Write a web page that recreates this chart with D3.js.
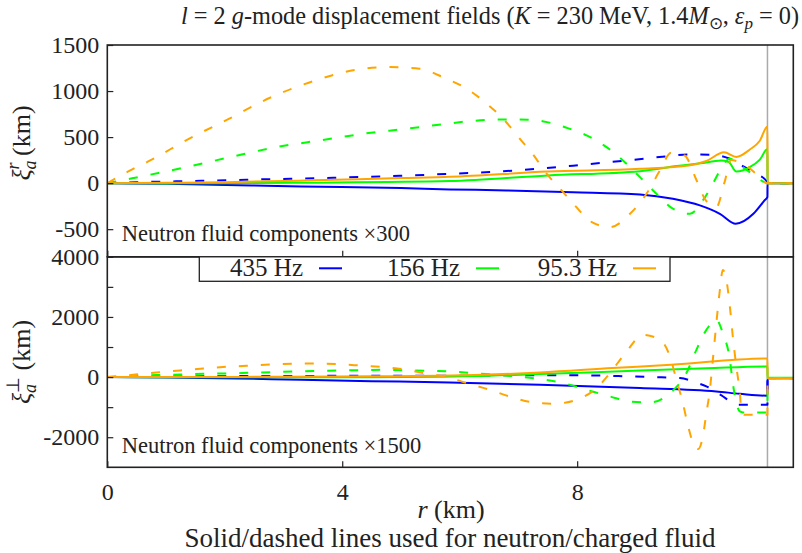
<!DOCTYPE html>
<html>
<head><meta charset="utf-8">
<style>
  html, body { margin: 0; background: #fff; }
</style>
</head>
<body>
<svg width="802" height="553"></svg>
<script src="https://cdnjs.cloudflare.com/ajax/libs/d3/7.8.5/d3.min.js"></script>
<script>
  // ---- data (r in km, values in km) ----
  const freqLabels = ["435 Hz", "156 Hz", "95.3 Hz"];
  const rTicks = [0, 4, 8];
  const topTicks = [-500, 0, 500, 1000, 1500];
  const botTicks = [-2000, 0, 2000, 4000];
  const botMinorTicks = [-1000, 1000, 3000];
  const rSurface = 11.24;
  const scaleTop = 300, scaleBot = 1500;

  // radial displacement, neutron (solid) and charged (dashed)
  const rad435n = [[0,0],[1,-8],[1.6,-14],[3.3,-36],[5,-54],[5.83,-68],[6.8,-79],[7.93,-98],[9.07,-123],[9.63,-170],[10.09,-242],[10.43,-333],[10.7,-441],[11,-333],[11.19,-188],[11.24,-150],[11.241,0],[11.68,0]];
  const rad435c = [[0,0],[0.5,10],[1.6,25],[2.7,42],[3.85,58],[4.98,80],[5.8,100],[6.97,138],[7.93,190],[8.96,254],[9.5,290],[9.92,312],[10.3,308],[10.6,265],[10.83,181],[11.05,102],[11.24,10],[11.241,0],[11.68,0]];
  const rad156n = [[0,0],[1,-3],[2,0],[3.5,5],[5.83,22],[7.5,84],[9.07,130],[9.7,185],[10.1,215],[10.45,245],[10.58,230],[10.71,125],[10.94,174],[11.11,255],[11.24,370],[11.241,0],[11.68,0]];
  const rad156c = [[0,0],[0.44,55],[0.87,110],[1.35,174],[2.09,282],[2.88,391],[3.62,464],[4.36,536],[5.1,591],[5.78,645],[6.17,673],[6.63,690],[7.02,692],[7.43,670],[7.82,601],[8.16,518],[8.5,391],[8.78,246],[9.07,65],[9.35,-115],[9.63,-278],[9.92,-333],[10.14,-188],[10.31,-7],[10.45,160],[10.6,265],[10.85,160],[11.05,70],[11.24,0],[11.68,0]];
  const rad95n = [[0,0],[1,3],[2,10],[3.5,30],[5,55],[5.83,68],[7.5,125],[9.07,156],[9.9,192],[10.2,240],[10.5,335],[10.71,285],[10.94,365],[11.11,460],[11.24,616],[11.241,0],[11.68,0]];
  const rad95c = [[0,0],[0.39,138],[0.73,246],[1.38,478],[2.06,695],[2.77,927],[3.51,1108],[4.24,1232],[4.81,1260],[5.32,1242],[5.75,1140],[6.12,1025],[6.46,862],[6.74,699],[7,500],[7.26,301],[7.48,102],[7.71,-61],[7.96,-242],[8.25,-424],[8.56,-478],[8.9,-333],[9.18,-115],[9.41,138],[9.6,330],[9.83,300],[10.02,50],[10.19,-188],[10.37,-260],[10.51,11],[10.62,250],[10.85,200],[11.08,84],[11.24,0],[11.68,0]];

  // tangential displacement
  const tan435n = [[0,0],[1,-15],[2.2,-45],[3.3,-90],[4.5,-135],[5.83,-179],[7.37,-256],[9.07,-365],[10.37,-478],[10.77,-555],[11.24,-621],[11.241,-40],[11.68,-40]];
  const tan435c = [[0,0],[1,15],[2,30],[3.5,40],[5,48],[5.83,45],[7,60],[7.93,62],[8.7,35],[9.29,0],[9.75,-33],[10.05,-200],[10.2,-310],[10.45,-600],[10.7,-900],[10.75,-920],[11.24,-920],[11.241,-33],[11.68,-33]];
  const tan156n = [[0,0],[1.5,-5],[3,-8],[4.5,-5],[5.7,10],[7.37,99],[9.07,219],[10.2,290],[11.24,352],[11.241,-20],[11.68,-20]];
  const tan156c = [[0,0],[0.5,30],[0.84,66],[1.24,86],[1.63,110],[2.03,120],[2.43,143],[2.83,166],[3.51,199],[4.36,232],[4.7,243],[5.1,225],[5.44,212],[5.8,195],[6.23,133],[6.63,76],[6.97,20],[7.37,-66],[7.76,-199],[8.16,-422],[8.56,-644],[8.9,-811],[9.24,-844],[9.58,-532],[9.86,133],[10.03,907],[10.2,1571],[10.37,1904],[10.48,1462],[10.6,575],[10.65,-199],[10.71,-864],[10.77,-1143],[10.82,-1175],[11.24,-1175],[11.241,-40],[11.68,-40]];
  const tan95n = [[0,0],[1.5,3],[3,10],[4.5,25],[5.66,43],[7.37,153],[8.6,299],[9.6,409],[11.24,618],[11.241,-40],[11.68,-40]];
  const tan95c = [[0,0],[0.44,76],[0.84,153],[1.24,219],[1.63,286],[2.03,342],[2.37,375],[2.77,419],[3.51,452],[3.9,432],[4.3,385],[4.7,332],[5.1,243],[5.44,110],[5.78,0],[6.12,-199],[6.51,-422],[6.85,-644],[7.25,-844],[7.59,-887],[7.99,-754],[8.33,-365],[8.56,133],[8.84,851],[9.12,1405],[9.41,1239],[9.58,684],[9.69,-90],[9.8,-864],[9.89,-1641],[10,-2306],[10.06,-2392],[10.14,-1973],[10.2,-1196],[10.26,-422],[10.31,575],[10.37,1794],[10.43,2900],[10.48,3565],[10.54,3233],[10.6,2346],[10.65,1349],[10.71,352],[10.77,-532],[10.8,-1196],[10.85,-1252],[11.24,-1252],[11.241,-40],[11.68,-40]];

  const colors = ["#0000ff", "#00ff00", "#ffa500"];
  const serif = "'Liberation Serif', serif";

  // ---- layout ----
  const svg = d3.select("svg").style("font-family", serif);
  const left = 107.3, right = 793.3;
  const topY0 = 45, midY = 256.8, botY1 = 467.3;

  const x = d3.scaleLinear().domain([0, 11.68]).range([left, right]);
  const yTop = d3.scaleLinear().domain([-800, 1500]).range([midY, topY0]);
  const yBot = d3.scaleLinear().domain([-3000, 4000]).range([botY1, midY]);

  svg.append("rect").attr("width", 802).attr("height", 553).attr("fill", "#fff");

  const defs = svg.append("defs");
  defs.append("clipPath").attr("id", "clipTop").append("rect")
      .attr("x", left).attr("y", topY0).attr("width", right - left).attr("height", midY - topY0);
  defs.append("clipPath").attr("id", "clipBot").append("rect")
      .attr("x", left).attr("y", midY).attr("width", right - left).attr("height", botY1 - midY);

  // surface line
  svg.append("line")
      .attr("x1", x(rSurface)).attr("x2", x(rSurface))
      .attr("y1", topY0).attr("y2", botY1)
      .attr("stroke", "#aaa").attr("stroke-width", 1.5);

  function drawPanel(y, clip, series) {
    const line = d3.line().x(d => x(d[0])).y(d => y(d[1])).curve(d3.curveMonotoneX);
    const g = svg.append("g").attr("clip-path", `url(#${clip})`);
    series.forEach(s => {
      g.append("path")
          .attr("d", line(s.data))
          .attr("fill", "none")
          .attr("stroke", s.color)
          .attr("stroke-width", 2)
          .attr("stroke-linejoin", "round")
          .attr("stroke-dasharray", s.dashed ? "9,13" : null);
    });
  }

  drawPanel(yTop, "clipTop", [
    {data: rad435n, color: colors[0]}, {data: rad435c, color: colors[0], dashed: true},
    {data: rad156n, color: colors[1]}, {data: rad156c, color: colors[1], dashed: true},
    {data: rad95n, color: colors[2]}, {data: rad95c, color: colors[2], dashed: true}
  ]);
  drawPanel(yBot, "clipBot", [
    {data: tan435n, color: colors[0]}, {data: tan435c, color: colors[0], dashed: true},
    {data: tan156n, color: colors[1]}, {data: tan156c, color: colors[1], dashed: true},
    {data: tan95n, color: colors[2]}, {data: tan95c, color: colors[2], dashed: true}
  ]);

  // ---- axes ----
  const fmt = d => String(d);   // plain "-500", no grouping commas
  function styleAxis(g) {
    g.attr("font-family", null).attr("font-size", null);
    g.style("font-family", serif).style("font-size", "24px");
    g.select(".domain").remove();
    g.selectAll(".tick line").attr("stroke", "#222").attr("stroke-width", 1.2);
    g.selectAll(".tick text").attr("fill", "#222");
  }

  svg.append("g").attr("transform", `translate(${left},0)`)
      .call(d3.axisLeft(yTop).tickValues(topTicks).tickSize(-6).tickPadding(8).tickFormat(fmt))
      .call(styleAxis);
  svg.append("g").attr("transform", `translate(${left},0)`)
      .call(d3.axisLeft(yBot).tickValues(botTicks).tickSize(-6).tickPadding(8).tickFormat(fmt))
      .call(styleAxis);
  svg.append("g").attr("transform", `translate(${left},0)`)
      .call(d3.axisLeft(yBot).tickValues(botMinorTicks).tickSize(-6).tickFormat(""))
      .call(styleAxis);

  svg.append("g").attr("transform", `translate(0,${midY})`)
      .call(d3.axisBottom(x).tickValues(rTicks).tickSize(-6).tickFormat(""))
      .call(styleAxis);
  svg.append("g").attr("transform", `translate(0,${botY1})`)
      .call(d3.axisBottom(x).tickValues(rTicks).tickSize(-6).tickPadding(16).tickFormat(fmt))
      .call(styleAxis);

  // frames
  [[topY0, midY], [midY, botY1]].forEach(([a, b]) => {
    svg.append("rect")
        .attr("x", left).attr("y", a).attr("width", right - left).attr("height", b - a)
        .attr("fill", "none").attr("stroke", "#222").attr("stroke-width", 1.6);
  });

  // ---- legend ----
  const legend = svg.append("g");
  legend.append("rect")
      .attr("x", 199.3).attr("y", midY).attr("width", 470.7).attr("height", 24.5)
      .attr("fill", "#fff").attr("stroke", "#222").attr("stroke-width", 1.3);
  freqLabels.forEach((lab, i) => {
    const tx = 303 + i * 157;
    legend.append("text").attr("x", tx).attr("y", 276)
        .attr("text-anchor", "end").style("font-size", "25px").attr("fill", "#222").text(lab);
    legend.append("line")
        .attr("x1", tx + 16).attr("x2", tx + 39).attr("y1", 268.3).attr("y2", 268.3)
        .attr("stroke", colors[i]).attr("stroke-width", 2);
  });

  // ---- text ----
  function addParts(t, parts) {
    parts.forEach(p => {
      const s = t.append("tspan").text(p.t);
      if (p.it) s.style("font-style", "italic");
      if (p.size) s.style("font-size", p.size + "px");
      if (p.dx) s.attr("dx", p.dx);
      if (p.dy) s.attr("dy", p.dy);
    });
  }

  const title = svg.append("text").attr("x", 490).attr("y", 24)
      .attr("text-anchor", "middle").style("font-size", "24.3px").attr("fill", "#222");
  addParts(title, [
    {t: "l", it: true}, {t: " = 2 "}, {t: "g", it: true}, {t: "-mode displacement fields ("},
    {t: "K", it: true}, {t: " = 230 MeV, 1.4"}, {t: "M", it: true},
    {t: "\u2299", size: 17, dy: 5}, {t: ", ", dy: -5}, {t: "\u03b5", it: true},
    {t: "p", it: true, size: 17, dy: 5}, {t: " = 0)", dy: -5}
  ]);

  function yLabel(cy, sup) {
    const t = svg.append("text")
        .attr("transform", `translate(30,${cy}) rotate(-90)`)
        .attr("text-anchor", "middle").style("font-size", "26px").attr("fill", "#222");
    addParts(t, [
      {t: "\u03be", it: true}, {t: "a", it: true, size: 18, dy: 6},
      {t: sup, it: sup === "r", size: 18, dx: -9, dy: -17}, {t: " (km)", dy: 11}
    ]);
  }
  yLabel(143, "r");
  yLabel(362, "\u22a5");

  svg.append("text").attr("x", 121.7).attr("y", 241)
      .style("font-size", "22.5px").attr("fill", "#222")
      .text(`Neutron fluid components \u00d7${scaleTop}`);
  svg.append("text").attr("x", 121.7).attr("y", 452.5)
      .style("font-size", "22.5px").attr("fill", "#222")
      .text(`Neutron fluid components \u00d7${scaleBot}`);

  const xl = svg.append("text").attr("x", 451).attr("y", 518)
      .attr("text-anchor", "middle").style("font-size", "26px").attr("fill", "#222");
  addParts(xl, [{t: "r", it: true}, {t: " (km)"}]);

  svg.append("text").attr("x", 450).attr("y", 547)
      .attr("text-anchor", "middle").style("font-size", "27px").attr("fill", "#222")
      .text("Solid/dashed lines used for neutron/charged fluid");
</script>
</body>
</html>
